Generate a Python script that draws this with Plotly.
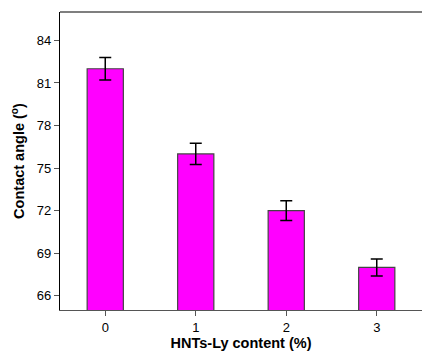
import plotly.graph_objects as go

categories = [0, 1, 2, 3]
values = [82.0, 76.0, 72.0, 68.0]
errors = [0.8, 0.75, 0.7, 0.6]
y_ticks = [66, 69, 72, 75, 78, 81, 84]

fig = go.Figure()
fig.add_trace(go.Bar(
    x=categories, y=values, width=0.4,
    marker=dict(color="#FF00FF", line=dict(color="#444444", width=1.2)),
    error_y=dict(type="data", array=errors, color="black", thickness=1.5, width=6),
))
fig.update_layout(
    width=422, height=353,
    margin=dict(l=60, r=0, t=12, b=43),
    paper_bgcolor="white", plot_bgcolor="white",
    showlegend=False,
    font=dict(family="Liberation Sans, Arial, sans-serif", color="black"),
    xaxis=dict(
        range=[-0.5, 3.5], tickvals=categories, ticktext=[str(c) for c in categories],
        showline=True, linecolor="#555555", linewidth=1.2, mirror=False,
        ticks="outside", ticklen=5, tickcolor="#555555", showgrid=False, zeroline=False,
        tickfont=dict(size=13),
        title=dict(text="<b>HNTs-Ly content (%)</b>", font=dict(size=14.5), standoff=4),
    ),
    yaxis=dict(
        range=[65, 86], tickvals=y_ticks,
        showline=True, linecolor="black", linewidth=1.2, mirror=False,
        ticks="outside", ticklen=5, tickcolor="#555555", showgrid=False, zeroline=False,
        tickfont=dict(size=13),
        title=dict(text="<b>Contact angle (<sup>o</sup>)</b>", font=dict(size=14.5), standoff=8),
    ),
)
fig.add_shape(type="line", xref="paper", yref="paper", x0=0, x1=1, y0=1, y1=1,
              line=dict(color="black", width=1.2))
fig.write_html("out.html")
